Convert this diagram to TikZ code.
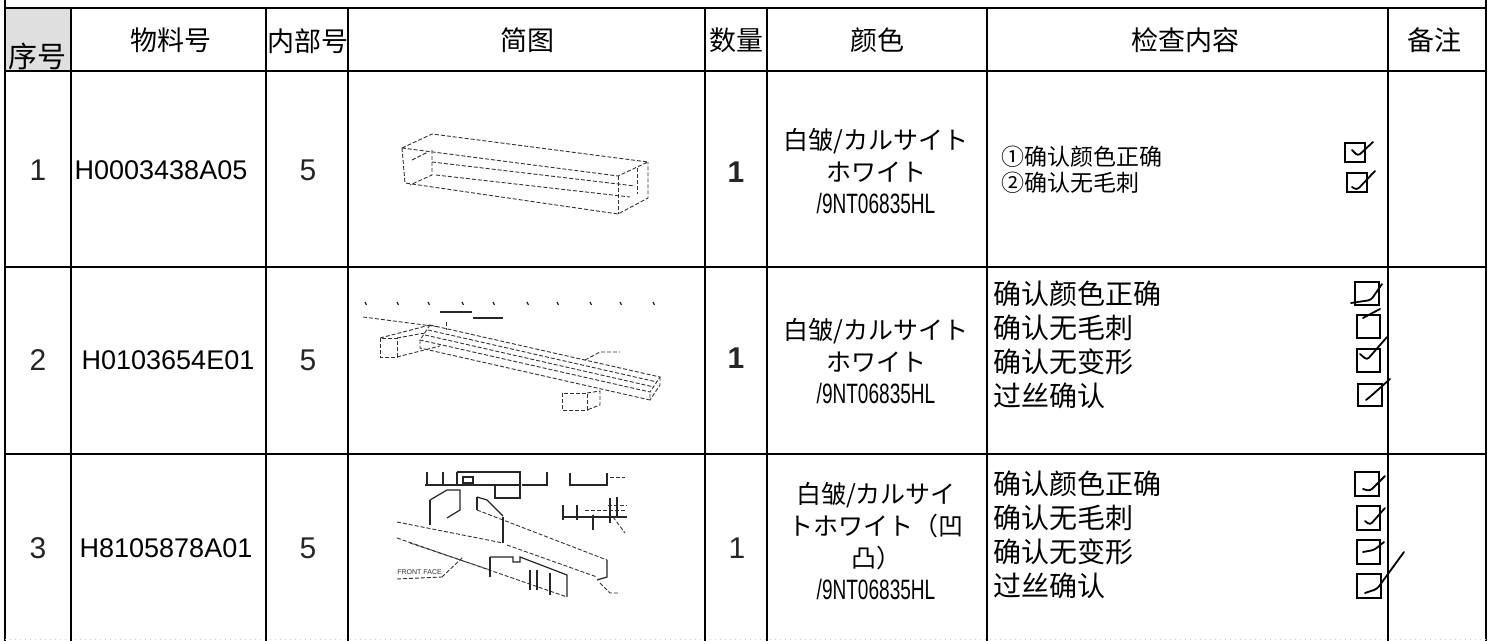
\documentclass[tikz,border=0pt]{standalone}
\usepackage{fontspec}
\setmainfont{Liberation Sans}
\newfontfamily\cjk{Noto Sans CJK SC}
\usepackage{graphicx}
\newcommand\codetxt[1]{\scalebox{0.68}[1]{\normalfont\fontsize{14}{16}\selectfont #1}}
\begin{document}
\begin{tikzpicture}[x=0.5pt,y=-0.5pt,
  grid/.style={line width=1.2pt,black},
  faint/.style={line width=0.5pt,black!20,dotted},
  hdr/.style={font=\cjk\fontsize{13.5}{16}\selectfont,inner sep=0pt},
  numtxt/.style={font=\fontsize{15}{18}\selectfont,inner sep=0pt,text=black!85},
  parttxt/.style={font=\fontsize{13.5}{16}\selectfont,inner sep=0pt},
  coltxt/.style={font=\cjk\fontsize{12.5}{16}\selectfont,align=center,inner sep=0pt},
  chkone/.style={font=\cjk\fontsize{11.5}{13}\selectfont,align=left,inner sep=0pt,anchor=west},
  chktxt/.style={font=\cjk\fontsize{14}{17}\selectfont,align=left,inner sep=0pt,anchor=west},
  cbox/.style={line width=0.6pt,black},
  tick/.style={line width=0.9pt,black,line cap=round,line join=round,rounded corners=1.5pt},
  sk/.style={line width=0.45pt,black!80,dash pattern=on 2pt off 1pt},
  skb/.style={line width=0.6pt,black!85},
  sktxt/.style={font=\fontsize{3.5}{4}\selectfont,inner sep=0pt,text=black!80}]
\useasboundingbox (0,0) rectangle (1490,641);
\fill[white] (0,0) rectangle (1490,641);
\fill[gray!25] (5,8) rectangle (71,71);
% table grid
\draw[grid] (5,0) -- (5,641);
\draw[grid] (1486,0) -- (1486,641);
\draw[grid] (5,8) -- (1486,8);
\draw[grid] (5,71) -- (1486,71);
\draw[grid] (5,267) -- (1486,267);
\draw[grid] (5,454) -- (1486,454);
\draw[faint] (5,640) -- (1486,640);
\foreach \xx in {71,266,348,705,767,987,1388} {\draw[grid] (\xx,8) -- (\xx,641);}
% header
\node[hdr,font=\cjk\fontsize{14.5}{16}\selectfont] (h1) at (38,56) {序号};
\node[hdr] (h2) at (171,40) {物料号};
\node[hdr] (h3) at (308,41) {内部号};
\node[hdr] (h4) at (527,40) {简图};
\node[hdr] (h5) at (736,40) {数量};
\node[hdr] (h6) at (877,40) {颜色};
\node[hdr] (h7) at (1185,40) {检查内容};
\node[hdr] (h8) at (1434,40) {备注};
% row 1
\node[numtxt] (n1) at (38,170) {1};
\node[parttxt] (p1) at (161,170) {H0003438A05};
\node[numtxt] (i1) at (308,170) {5};
\node[numtxt,font=\bfseries\fontsize{15}{18}\selectfont] (q1) at (736,172) {1};
\node[coltxt] (c1) at (876,171) {白皱/カルサイト\\ホワイト\\\codetxt{/9NT06835HL}};
\node[chkone] (k1) at (1001,170) {①确认颜色正确\\②确认无毛刺};
% row 2
\node[numtxt] (n2) at (38,360) {2};
\node[parttxt] (p2) at (168,360) {H0103654E01};
\node[numtxt] (i2) at (308,360) {5};
\node[numtxt,font=\bfseries\fontsize{15}{18}\selectfont] (q2) at (736,358) {1};
\node[coltxt] (c2) at (876,361) {白皱/カルサイト\\ホワイト\\\codetxt{/9NT06835HL}};
\node[chktxt] (k2) at (993,345) {确认颜色正确\\确认无毛刺\\确认无变形\\过丝确认};
% row 3
\node[numtxt] (n3) at (38,548) {3};
\node[parttxt] (p3) at (166,548) {H8105878A01};
\node[numtxt] (i3) at (308,548) {5};
\node[numtxt] (q3) at (737,548) {1};
\node[coltxt] (c3) at (876,541) {白皱/カルサイ\\トホワイト（凹\\凸）\\\codetxt{/9NT06835HL}};
\node[chktxt] (k3) at (993,535) {确认颜色正确\\确认无毛刺\\确认无变形\\过丝确认};
% check boxes row 1
\draw[cbox] (1345,143) rectangle (1365,162);
\draw[tick] (1352,150) -- (1358,156) -- (1373,142);
\draw[cbox] (1347,173) rectangle (1367,192);
\draw[tick] (1352,187) -- (1357,190) -- (1375,171);
% check boxes row 2
\draw[cbox] (1355,282) rectangle (1379,305);
\draw[tick] (1351,303) -- (1371,300) -- (1382,284);
\draw[cbox] (1357,315) rectangle (1380,338);
\draw[tick] (1363,318) -- (1380,309);
\draw[cbox] (1357,349) rectangle (1380,372);
\draw[tick] (1360,354) -- (1367,360) -- (1387,337);
\draw[cbox] (1358,384) rectangle (1382,406);
\draw[tick] (1366,400) -- (1371,396) -- (1390,379);
% check boxes row 3
\draw[cbox] (1355,472) rectangle (1379,496);
\draw[tick] (1363,489) -- (1370,491) -- (1385,476);
\draw[cbox] (1357,506) rectangle (1380,530);
\draw[tick] (1365,521) -- (1370,525) -- (1385,508);
\draw[cbox] (1357,540) rectangle (1380,564);
\draw[tick] (1363,552) -- (1374,550) -- (1384,542);
\draw[cbox] (1357,574) rectangle (1381,598);
\draw[tick] (1365,593) -- (1377,589) -- (1404,552);
% sketch 1 : long box
\draw[sk] (402,148) -- (432,134) -- (648,162) -- (618,176) -- cycle;
\draw[sk] (402,148) -- (405,183) -- (618,214) -- (648,198) -- (648,162);
\draw[sk] (618,176) -- (618,214);
\draw[sk] (432,150) -- (432,175) -- (410,185);
\draw[sk] (432,162) -- (635,186);
\draw[sk] (436,175) -- (630,197);
\draw[sk] (412,160) -- (428,152);
\draw[sk] (637,168) -- (637,194);
% sketch 2 : frame
\foreach \xx in {365,397,428,462,493,527,557,590,620,653} {\draw[skb] (\xx,302) -- (\xx+1.5,305);}
\draw[sk] (363,317) -- (440,327);
\draw[skb,line width=1pt] (440,312) -- (472,312);
\draw[skb,line width=1pt] (473,318) -- (503,318);
\draw[sk] (430,325) -- (660,377) -- (650,392) -- (420,340) -- cycle;
\draw[sk] (420,340) -- (420,348) -- (650,400) -- (650,392);
\draw[sk] (660,377) -- (660,385) -- (650,400);
\draw[sk] (428,330) -- (657,382);
\draw[sk] (425,335) -- (654,387);
\draw[sk] (446,322) -- (446,330);
\draw[sk] (380,338) -- (430,325);
\draw[sk] (380,338) rectangle (397,357);
\draw[sk] (397,357) -- (440,346);
\draw[sk] (397,338) -- (425,333);
\draw[sk] (562,393) rectangle (587,410);
\draw[sk] (587,393) -- (600,391) -- (600,405) -- (587,410);
\draw[sk] (585,360) -- (600,352) -- (620,352);
% sketch 3 : section with details
\draw[skb] (425,485) -- (520,485);
\draw[skb] (427,472) -- (427,485);
\draw[skb] (443,472) -- (443,485);
\draw[skb] (457,472) -- (520,472) -- (520,498) -- (495,498) -- (495,485);
\draw[skb] (457,472) -- (457,485);
\draw[skb] (463,477) rectangle (473,483);
\draw[skb] (522,485) -- (547,485) -- (547,472);
\draw[skb] (570,473) -- (570,485) -- (607,485) -- (607,473);
\draw[sk] (610,477) -- (625,477);
\draw[sk] (608,505) -- (627,505);
\draw[sk] (585,510) -- (627,510);
\draw[skb] (563,517) -- (627,517);
\draw[skb] (563,505) -- (563,520);
\draw[skb] (577,505) -- (577,520);
\draw[skb] (593,515) -- (593,530);
\draw[skb] (610,498) -- (610,523);
\draw[skb] (617,497) -- (617,517);
\draw[sk] (613,517) -- (625,533);
\draw[sk] (397,522) -- (503,543);
\draw[sk] (477,510) -- (607,560);
\draw[sk] (507,545) -- (597,577);
\draw[sk] (397,538) -- (567,597);
\draw[sk] (410,543) -- (490,570);
\draw[skb] (490,557) -- (490,577);
\draw[skb] (490,557) -- (513,557) -- (513,562) -- (520,562) -- (520,557) -- (567,575) -- (567,597);
\draw[skb] (530,570) -- (530,590);
\draw[skb] (537,570) -- (537,590);
\draw[skb] (550,573) -- (550,595);
\draw[skb] (430,500) -- (430,525);
\draw[skb] (430,500) -- (447,490) -- (460,490) -- (460,510) -- (447,518);
\draw[skb] (477,497) -- (477,510);
\draw[skb] (477,497) -- (487,500) -- (503,516);
\draw[skb] (503,517) -- (503,543);
\draw[skb] (607,560) -- (607,577) -- (597,580);
\draw[sk] (442,577) -- (463,557);
\draw[sk] (397,579) -- (442,577);
\node[sktxt,anchor=south west] (ff) at (397,575) {FRONT FACE};
\draw[sk] (600,583) -- (610,593) -- (620,593);
\end{tikzpicture}
\end{document}
